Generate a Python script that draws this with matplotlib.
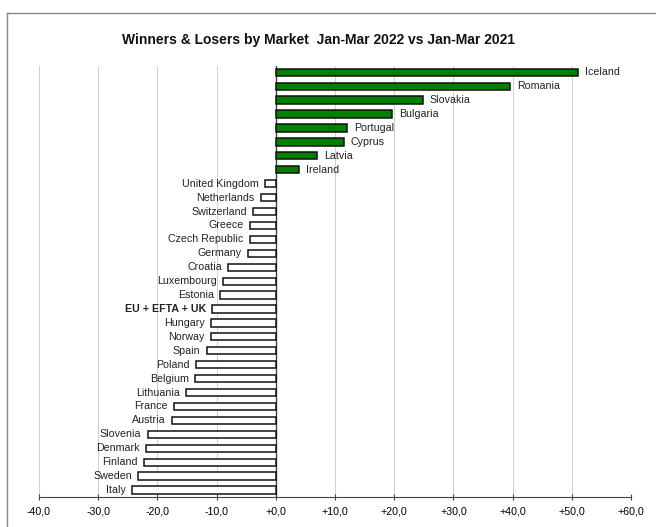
import matplotlib
matplotlib.use("Agg")
import matplotlib.pyplot as plt
from matplotlib.lines import Line2D
import numpy as np

plt.rcParams["font.family"] = ["Liberation Sans", "DejaVu Sans"]

markets = ["Iceland", "Romania", "Slovakia", "Bulgaria", "Portugal", "Cyprus", "Latvia", "Ireland",
           "United Kingdom", "Netherlands", "Switzerland", "Greece", "Czech Republic", "Germany",
           "Croatia", "Luxembourg", "Estonia", "EU + EFTA + UK", "Hungary", "Norway", "Spain",
           "Poland", "Belgium", "Lithuania", "France", "Austria", "Slovenia", "Denmark", "Finland",
           "Sweden", "Italy"]
change = [51.1, 39.6, 24.9, 19.7, 12.1, 11.5, 7.0, 4.0,
          -1.8, -2.5, -3.8, -4.3, -4.4, -4.7,
          -8.0, -8.9, -9.4, -10.7, -10.9, -11.0, -11.7,
          -13.5, -13.6, -15.1, -17.2, -17.5, -21.6, -21.9, -22.3,
          -23.2, -24.3]
xticks = [-40, -30, -20, -10, 0, 10, 20, 30, 40, 50, 60]

fig = plt.figure(figsize=(6.56, 5.27), dpi=100)
ax = fig.add_axes([39 / 656, 1 - 497 / 527, (631 - 39) / 656, (497 - 66) / 527])

y = np.arange(len(markets))
colors = ["#008000" if v > 0 else "white" for v in change]
ax.barh(y, change, height=0.52, color=colors, edgecolor="#111111", linewidth=1.1, zorder=3)

for yi, v, name in zip(y, change, markets):
    weight = "bold" if name == "EU + EFTA + UK" else "normal"
    if v > 0:
        ax.text(v + 1.1, yi, name, va="center", ha="left", fontsize=7.7, color="#222222", zorder=4)
    else:
        ax.text(v - 1.1, yi, name, va="center", ha="right", fontsize=7.7, color="#222222",
                fontweight=weight, zorder=4)

ax.set_xlim(-40, 60)
ax.set_ylim(len(markets) - 0.5, -0.45)
ax.set_xticks(xticks)
ax.set_xticklabels([("+" if t >= 0 else "") + f"{t:.1f}".replace(".", ",") for t in xticks], fontsize=7.7)
ax.set_yticks([])
ax.grid(axis="x", color="#d0d0d0", linewidth=0.7, zorder=0)
ax.axvline(0, color="#444444", linewidth=1.0, zorder=2)
for s in ["top", "left", "right"]:
    ax.spines[s].set_visible(False)
ax.spines["bottom"].set_color("#444444")
ax.tick_params(axis="x", direction="inout", length=5, color="#444444", pad=4)

fig.text(318 / 656, 1 - 40 / 527, "Winners & Losers by Market  Jan-Mar 2022 vs Jan-Mar 2021",
         ha="center", va="center", fontsize=10, fontweight="bold", color="#111111")

# outer frame
fig.add_artist(Line2D([7 / 656, 7 / 656], [0, 1 - 13 / 527], color="#888888", linewidth=1.0))
fig.add_artist(Line2D([7 / 656, 1], [1 - 13 / 527, 1 - 13 / 527], color="#888888", linewidth=1.0))

fig.savefig("out.png", dpi=100)
